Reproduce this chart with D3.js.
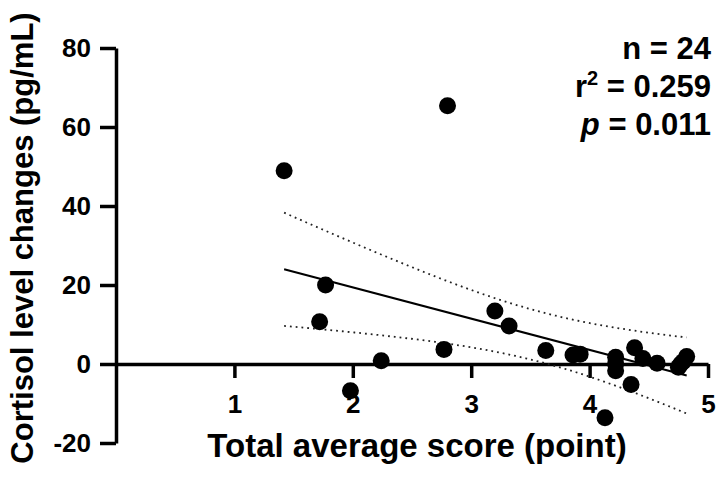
<!DOCTYPE html>
<html lang="en">
<head>
    <meta charset="UTF-8">
    <title>Cortisol vs score</title>
    <script src="https://d3js.org/d3.v7.min.js"></script>
    <style>
        body { margin: 0; background: #fff; }
        text { font-family: "Liberation Sans", Arial, sans-serif; font-weight: bold; }
    </style>
</head>
<body>
<script>
    const width  = 720;
    const height = 482;

    // total average score (x) and cortisol change in pg/mL (y)
    const scores = [1.42, 2.80, 1.77, 1.72, 1.98, 2.24, 2.77, 3.20, 3.32, 3.63, 3.86, 3.92,
                    4.22, 4.22, 4.22, 4.13, 4.35, 4.38, 4.45, 4.57, 4.75, 4.82, 4.79, 4.77];
    const cortisol = [48.9, 65.4, 20.0, 10.7, -6.8, 0.8, 3.7, 13.4, 9.6, 3.4, 2.3, 2.5,
                      1.7, -1.7, 0.0, -13.6, -5.2, 4.1, 1.4, 0.2, -0.8, 1.9, 0.6, 0.0];

    const xTicks = [1, 2, 3, 4, 5];
    const yTicks = [-20, 0, 20, 40, 60, 80];
    const statLines = ["n = 24", "0.259", "0.011"];
    const tCrit = 2.074; // t(0.975, df = 22)

    const data = scores.map((s, i) => [s, cortisol[i]]);

    const scaleX = d3.scaleLinear().domain([0, 5]).range([116, 708]);
    const scaleY = d3.scaleLinear().domain([-20, 80]).range([443, 48]);

    // simple linear regression + 95% confidence band
    const n = data.length;
    const mx = d3.mean(data, d => d[0]);
    const my = d3.mean(data, d => d[1]);
    const sxx = d3.sum(data, d => (d[0] - mx) ** 2);
    const sxy = d3.sum(data, d => (d[0] - mx) * (d[1] - my));
    const slope = sxy / sxx;
    const icpt = my - slope * mx;
    const sse = d3.sum(data, d => (d[1] - (icpt + slope * d[0])) ** 2);
    const se = Math.sqrt(sse / (n - 2));
    const [x0, x1] = d3.extent(scores);
    const band = d3.range(0, 41).map(i => {
        const x = x0 + (x1 - x0) * i / 40;
        const fit = icpt + slope * x;
        const h = tCrit * se * Math.sqrt(1 / n + (x - mx) ** 2 / sxx);
        return {x: x, lo: fit - h, hi: fit + h};
    });

    const svg = d3.select("body").append("svg").attr("width", width).attr("height", height);

    // axes
    const yAxis = svg.append("g")
        .attr("transform", `translate(${scaleX(0)},0)`)
        .call(d3.axisLeft(scaleY).tickValues(yTicks).tickFormat(d => String(d))
            .tickSize(16).tickSizeOuter(0).tickPadding(9));
    const xAxis = svg.append("g")
        .attr("transform", `translate(0,${scaleY(0)})`)
        .call(d3.axisBottom(scaleX).tickValues(xTicks).tickFormat(d => String(d))
            .tickSize(14).tickSizeOuter(0).tickPadding(17));

    [xAxis, yAxis].forEach(ax => {
        ax.select(".domain").attr("stroke", "#000").attr("stroke-width", 3.5);
        ax.selectAll(".tick line").attr("stroke", "#000").attr("stroke-width", 3.5);
        ax.selectAll(".tick text").attr("fill", "#000").style("font-size", "26px");
    });

    // confidence band (dotted)
    const dotted = [d3.line().x(d => scaleX(d.x)).y(d => scaleY(d.hi)),
                    d3.line().x(d => scaleX(d.x)).y(d => scaleY(d.lo))];
    dotted.forEach(l => {
        svg.append("path")
            .attr("d", l(band))
            .attr("fill", "none")
            .attr("stroke", "#222")
            .attr("stroke-width", 1.8)
            .attr("stroke-dasharray", "1.8,4");
    });

    // fit line
    svg.append("line")
        .attr("x1", scaleX(x0)).attr("y1", scaleY(icpt + slope * x0))
        .attr("x2", scaleX(x1)).attr("y2", scaleY(icpt + slope * x1))
        .attr("stroke", "#000")
        .attr("stroke-width", 2);

    // points
    svg.append("g").selectAll("circle")
        .data(data)
        .join("circle")
        .attr("cx", d => scaleX(d[0]))
        .attr("cy", d => scaleY(d[1]))
        .attr("r", 8.5)
        .attr("fill", "#000");

    // axis titles
    svg.append("text")
        .attr("x", 417).attr("y", 457)
        .attr("text-anchor", "middle")
        .style("font-size", "33px")
        .text("Total average score (point)");
    svg.append("text")
        .attr("transform", "translate(33,238) rotate(-90)")
        .attr("text-anchor", "middle")
        .style("font-size", "31px")
        .text("Cortisol level changes (pg/mL)");

    // stats
    const stats = svg.append("g").style("font-size", "31px").attr("text-anchor", "end");
    stats.append("text").attr("x", 711).attr("y", 59).text(statLines[0]);
    const r2 = stats.append("text").attr("x", 711).attr("y", 97);
    r2.append("tspan").text("r");
    r2.append("tspan").attr("dy", -12).style("font-size", "20px").text("2");
    r2.append("tspan").attr("dy", 12).text(" = " + statLines[1]);
    const pv = stats.append("text").attr("x", 711).attr("y", 135);
    pv.append("tspan").style("font-style", "italic").text("p");
    pv.append("tspan").text(" = " + statLines[2]);
</script>
</body>
</html>
